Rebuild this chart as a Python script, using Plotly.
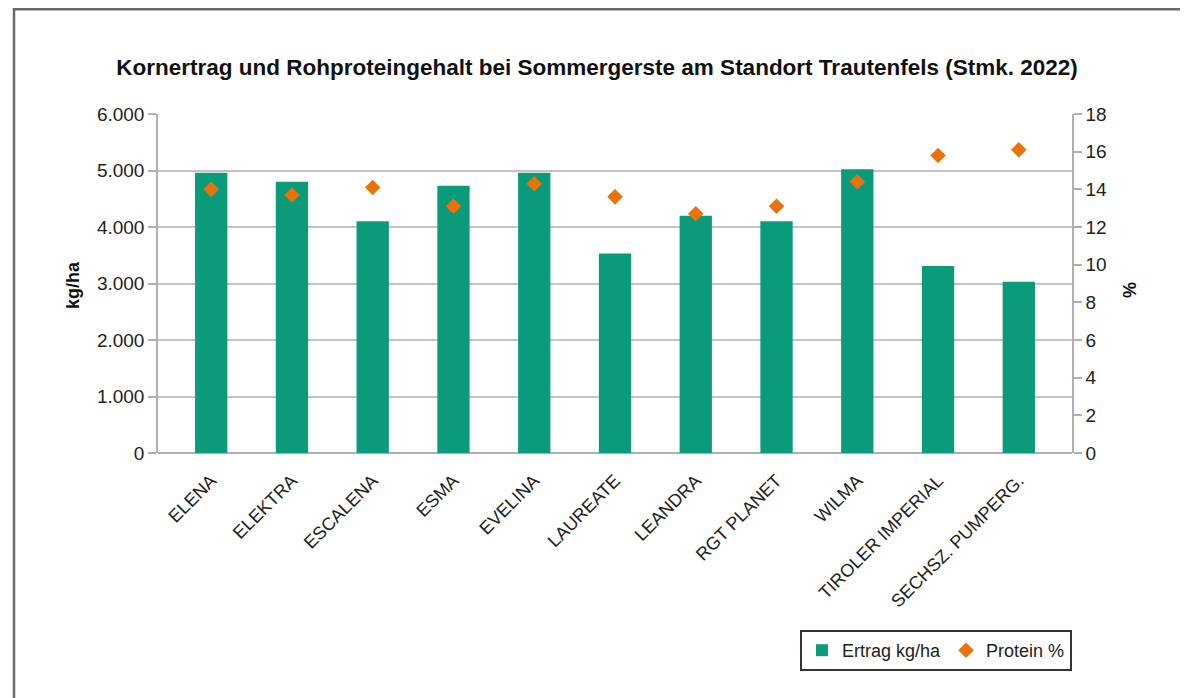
import plotly.graph_objects as go

categories = ["ELENA", "ELEKTRA", "ESCALENA", "ESMA", "EVELINA", "LAUREATE",
              "LEANDRA", "RGT PLANET", "WILMA", "TIROLER IMPERIAL", "SECHSZ. PUMPERG."]
ertrag = [4960, 4800, 4100, 4730, 4960, 3530, 4200, 4100, 5020, 3310, 3030]
protein = [14.0, 13.7, 14.1, 13.1, 14.3, 13.6, 12.7, 13.1, 14.4, 15.8, 16.1]
left_ticks = [0, 1000, 2000, 3000, 4000, 5000, 6000]
right_ticks = [0, 2, 4, 6, 8, 10, 12, 14, 16, 18]

title = "Kornertrag und Rohproteingehalt bei Sommergerste am Standort Trautenfels (Stmk. 2022)"

# page is drawn with an 8px body margin, so figure coords = page coords - 8
OFF = 8
W, H = 1180, 690
L, R, T, B = 158 - OFF, 1072 - OFF, 114 - OFF, 453 - OFF
pw, ph = R - L, B - T

def px(x):
    return (x - OFF - L) / pw

def py(y):
    return (B - (y - OFF)) / ph

FONT = "Liberation Sans, Arial, sans-serif"
GREEN = "#0b9b7a"
ORANGE = "#e8720c"

fig = go.Figure()
fig.add_trace(go.Bar(x=categories, y=ertrag, name="Ertrag kg/ha",
                     marker=dict(color=GREEN, line=dict(width=0))))
fig.add_trace(go.Scatter(x=categories, y=protein, name="Protein %", yaxis="y2",
                         mode="markers",
                         marker=dict(symbol="diamond", size=12, color=ORANGE)))

fig.update_layout(
    width=W, height=H,
    margin=dict(l=L, r=W - R, t=T, b=H - B, pad=0),
    paper_bgcolor="white", plot_bgcolor="white",
    separators=",.",
    bargap=0.6,
    font=dict(family=FONT, color="#222"),
    title=dict(text="<b>" + title + "</b>", x=px(597), xref="paper", xanchor="center",
               y=1 - (67 - OFF) / H, yanchor="middle",
               font=dict(size=22.5, color="#111", family=FONT)),
    xaxis=dict(type="category", tickangle=-45, showgrid=False,
               tickfont=dict(size=18, color="#222"),
               showline=False, ticks="outside", ticklen=9,
               tickcolor="rgba(0,0,0,0)", automargin=False),
    yaxis=dict(range=[0, 6000], tickvals=left_ticks, tickformat=",",
               showgrid=True, gridcolor="#c4c4c4", gridwidth=1.5,
               showline=True, linecolor="#b0b0b0", linewidth=1.5,
               ticks="outside", ticklen=8, tickcolor="#b0b0b0", tickwidth=1.5,
               tickfont=dict(size=19, color="#222"), zeroline=True,
               zerolinecolor="#b0b0b0", zerolinewidth=1.5, automargin=False),
    yaxis2=dict(range=[0, 18], tickvals=right_ticks, overlaying="y", side="right",
                showgrid=False, showline=True, linecolor="#b0b0b0", linewidth=1.5,
                ticks="outside", ticklen=8, tickcolor="#b0b0b0", tickwidth=1.5,
                tickfont=dict(size=19, color="#222"), zeroline=False, automargin=False),
    legend=dict(orientation="h", x=1, xanchor="right", y=py(630), yanchor="top",
                bordercolor="#333", borderwidth=2, bgcolor="white",
                font=dict(size=18, color="#222"), itemwidth=30,
                traceorder="normal"),
    showlegend=True,
)

fig.add_annotation(text="<b>kg/ha</b>", x=px(73), y=py(285), xref="paper", yref="paper",
                   textangle=-90, showarrow=False, font=dict(size=18, color="#111"),
                   xanchor="center", yanchor="middle")
fig.add_annotation(text="<b>%</b>", x=px(1130), y=py(290), xref="paper", yref="paper",
                   textangle=-90, showarrow=False, font=dict(size=18, color="#111"),
                   xanchor="center", yanchor="middle")

fig.add_shape(type="rect", xref="paper", yref="paper",
              x0=px(14), x1=px(1185), y0=(B - 1.2) / ph, y1=py(720),
              line=dict(color="#6a6a6a", width=2.5), fillcolor="rgba(0,0,0,0)",
              layer="below")

fig.write_html("out.html")
